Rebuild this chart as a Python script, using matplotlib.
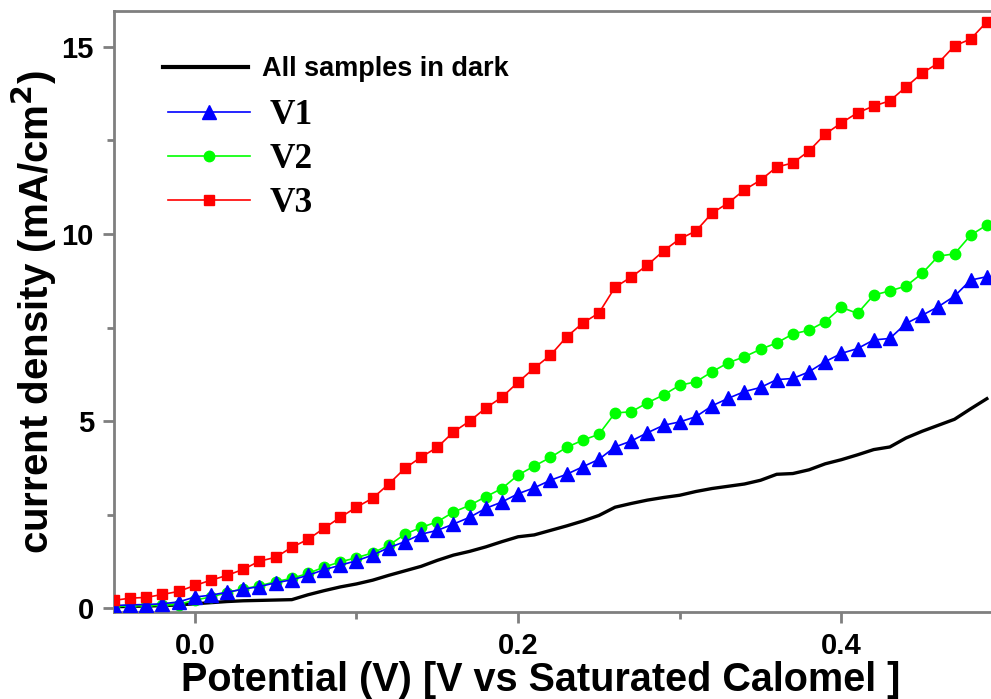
import matplotlib
matplotlib.use("Agg")
import matplotlib.pyplot as plt
from matplotlib.ticker import MultipleLocator
import numpy as np

potential = [-0.05, -0.04, -0.03, -0.02, -0.01, 0.00, 0.01, 0.02, 0.03, 0.04,
             0.05, 0.06, 0.07, 0.08, 0.09, 0.10, 0.11, 0.12, 0.13, 0.14,
             0.15, 0.16, 0.17, 0.18, 0.19, 0.20, 0.21, 0.22, 0.23, 0.24,
             0.25, 0.26, 0.27, 0.28, 0.29, 0.30, 0.31, 0.32, 0.33, 0.34,
             0.35, 0.36, 0.37, 0.38, 0.39, 0.40, 0.41, 0.42, 0.43, 0.44,
             0.45, 0.46, 0.47, 0.48, 0.49]

dark = [0.04, 0.05, 0.06, 0.07, 0.09, 0.12, 0.15, 0.18, 0.20, 0.21,
        0.22, 0.23, 0.36, 0.47, 0.57, 0.65, 0.75, 0.88, 1.00, 1.12,
        1.28, 1.42, 1.52, 1.64, 1.78, 1.91, 1.96, 2.08, 2.20, 2.33,
        2.48, 2.70, 2.80, 2.89, 2.96, 3.02, 3.12, 3.20, 3.26, 3.32,
        3.42, 3.58, 3.60, 3.70, 3.86, 3.97, 4.10, 4.24, 4.31, 4.55,
        4.73, 4.89, 5.05, 5.33, 5.60]

v1 = [0.07, 0.09, 0.10, 0.12, 0.17, 0.30, 0.35, 0.43, 0.51, 0.58,
      0.68, 0.76, 0.88, 1.03, 1.15, 1.27, 1.42, 1.62, 1.78, 1.98,
      2.08, 2.25, 2.43, 2.67, 2.84, 3.06, 3.22, 3.42, 3.58, 3.78,
      3.98, 4.31, 4.47, 4.69, 4.89, 4.98, 5.12, 5.41, 5.61, 5.79,
      5.90, 6.11, 6.14, 6.32, 6.59, 6.81, 6.94, 7.17, 7.21, 7.61,
      7.83, 8.06, 8.34, 8.77, 8.86]

v2 = [0.05, 0.06, 0.07, 0.08, 0.10, 0.22, 0.30, 0.42, 0.52, 0.60,
      0.71, 0.80, 0.93, 1.10, 1.24, 1.35, 1.48, 1.68, 1.98, 2.16,
      2.31, 2.57, 2.75, 2.98, 3.20, 3.56, 3.80, 4.03, 4.30, 4.49,
      4.65, 5.22, 5.25, 5.49, 5.70, 5.96, 6.05, 6.32, 6.56, 6.72,
      6.92, 7.09, 7.33, 7.43, 7.66, 8.04, 7.88, 8.37, 8.48, 8.61,
      8.95, 9.41, 9.47, 9.97, 10.24]

v3 = [0.21, 0.27, 0.29, 0.37, 0.45, 0.61, 0.75, 0.88, 1.04, 1.26,
      1.36, 1.63, 1.84, 2.14, 2.43, 2.70, 2.94, 3.32, 3.74, 4.04,
      4.30, 4.71, 5.00, 5.35, 5.64, 6.04, 6.42, 6.76, 7.25, 7.62,
      7.89, 8.58, 8.85, 9.17, 9.55, 9.87, 10.08, 10.56, 10.83, 11.18,
      11.44, 11.79, 11.90, 12.22, 12.67, 12.97, 13.24, 13.42, 13.56, 13.93,
      14.30, 14.57, 15.03, 15.21, 15.67]

labels = ["All samples in dark", "V1", "V2", "V3"]
xticks = [0.0, 0.2, 0.4]
yticks = [0, 5, 10, 15]

plt.rcParams['font.family'] = ['Liberation Sans', 'DejaVu Sans']

W, H = 991, 699
fig = plt.figure(figsize=(W / 100, H / 100), dpi=100)
left, right, bottom, top = 114, 1003, 612, 11
ax = fig.add_axes([left / W, (H - bottom) / H, (right - left) / W, (bottom - top) / H])

l0, = ax.plot(potential, dark, color='black', lw=2.4, label=labels[0], zorder=2)
l1, = ax.plot(potential, v1, color='#0000FF', lw=1.2, marker='^', ms=9.5, label=labels[1], zorder=4)
l2, = ax.plot(potential, v2, color='#00FF00', lw=1.2, marker='o', ms=7.5, label=labels[2], zorder=3)
l3, = ax.plot(potential, v3, color='#FF0000', lw=1.2, marker='s', ms=7.5, label=labels[3], zorder=5)

ax.set_xlim(-0.05, 0.5)
ax.set_ylim(-0.1, 15.96)
ax.set_xticks(xticks)
ax.set_xticklabels(["0.0", "0.2", "0.4"])
ax.set_yticks(yticks)
ax.xaxis.set_minor_locator(MultipleLocator(0.1))
ax.yaxis.set_minor_locator(MultipleLocator(2.5))

for s in ax.spines.values():
    s.set_color('#7f7f7f')
    s.set_linewidth(2)
ax.tick_params(which='major', direction='out', length=8, width=2, color='#7f7f7f',
               labelsize=21)
ax.tick_params(axis='x', which='major', pad=6.5)
ax.tick_params(axis='y', which='major', pad=6.5)
ax.tick_params(which='minor', direction='out', length=5, width=2, color='#7f7f7f')
for t in ax.get_xticklabels() + ax.get_yticklabels():
    t.set_fontweight('bold')

fig.text(541 / W, 1 - 691 / H, "Potential (V) [V vs Saturated Calomel ]",
         ha='center', va='baseline', fontsize=28.5, fontweight='bold')
fig.text(34 / W, 1 - 312 / H, "current density (mA/cm$^\\mathbf{2}$)",
         ha='center', va='center', rotation=90, fontsize=29, fontweight='bold')

# legend: first row (sans-serif)
fs0 = 19.5
px0 = fs0 * 100 / 72
leg0 = ax.legend(handles=[l0], labels=[labels[0]], loc='center left',
                 bbox_to_anchor=(163 / W, 1 - 69 / H), bbox_transform=fig.transFigure,
                 frameon=False, handlelength=85 / px0, handletextpad=14 / px0,
                 borderpad=0, borderaxespad=0,
                 prop={'family': 'Liberation Sans', 'weight': 'bold', 'size': fs0})
leg0.legend_handles[0].set_linewidth(3)
ax.add_artist(leg0)

# legend: V rows (serif)
fs1 = 25.5
px1 = fs1 * 100 / 72
leg1 = ax.legend(handles=[l1, l2, l3], labels=labels[1:], loc='center left',
                 bbox_to_anchor=(168 / W, 1 - 159.5 / H), bbox_transform=fig.transFigure,
                 frameon=False, handlelength=82 / px1, handletextpad=20 / px1,
                 labelspacing=0.31, borderpad=0, borderaxespad=0,
                 prop={'family': 'Liberation Serif', 'weight': 'bold', 'size': fs1})

fig.savefig("out.png", dpi=100)
